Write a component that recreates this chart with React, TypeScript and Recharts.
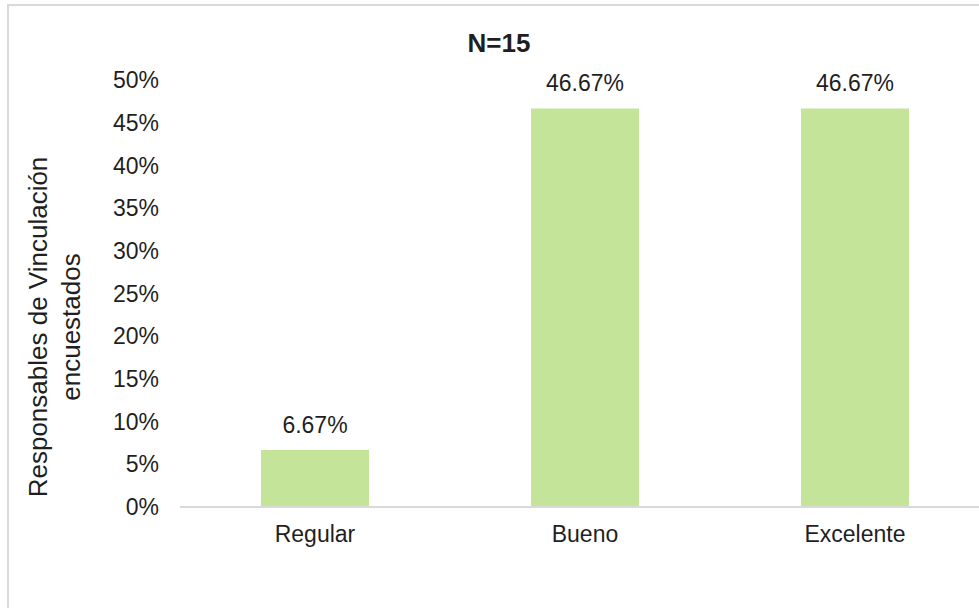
import React from 'react';
import { BarChart, Bar, XAxis, YAxis, LabelList } from 'recharts';

const categories = ['Regular', 'Bueno', 'Excelente'];
const shares = [0.0667, 0.4667, 0.4667];
const yTicks = [0, 0.05, 0.1, 0.15, 0.2, 0.25, 0.3, 0.35, 0.4, 0.45, 0.5];

const title = 'N=15';
const yLabelLines = ['Responsables de Vinculación', 'encuestados'];

const FONT = '"Liberation Sans", Arial, sans-serif';
const TEXT = '#1f1f1f';

const chartData = categories.map((name, i) => ({ name, value: shares[i] }));

const pct = (v: number) => `${Math.round(v * 100)}%`;
const pct2 = (v: any) => `${(Number(v) * 100).toFixed(2)}%`;

export default function App() {
    return (
        <div
            style={{
                position: 'fixed',
                left: 7,
                top: 4,
                width: 972,
                height: 604,
                overflow: 'hidden',
                background: '#fff',
            }}
        >
            <div
                style={{
                    position: 'relative',
                    width: 1100,
                    height: 700,
                    borderTop: '2px solid #d9d9d9',
                    borderLeft: '2px solid #d9d9d9',
                }}
            >
                <BarChart
                    width={1000}
                    height={620}
                    data={chartData}
                    margin={{ top: 74, right: 19, left: 0, bottom: 59 }}
                    barCategoryGap="30%"
                >
                    <XAxis
                        dataKey="name"
                        height={60}
                        interval={0}
                        axisLine={{ stroke: '#d9d9d9', strokeWidth: 2 }}
                        tickLine={false}
                        tickSize={0}
                        tickMargin={19}
                        tick={{ fill: TEXT, fontSize: 23, fontFamily: FONT }}
                    />
                    <YAxis
                        width={171}
                        domain={[0, 0.5]}
                        ticks={yTicks}
                        interval={0}
                        tickFormatter={pct}
                        axisLine={false}
                        tickLine={false}
                        tickSize={0}
                        tickMargin={21}
                        tick={{ fill: TEXT, fontSize: 23, fontFamily: FONT }}
                    />
                    <Bar dataKey="value" fill="#c4e49a" isAnimationActive={false}>
                        <LabelList
                            dataKey="value"
                            position="top"
                            offset={17}
                            formatter={pct2}
                            style={{ fill: TEXT, fontSize: 23, fontFamily: FONT }}
                        />
                    </Bar>
                </BarChart>
                <svg
                    width={1000}
                    height={620}
                    style={{ position: 'absolute', left: 0, top: 0, pointerEvents: 'none' }}
                >
                    <text
                        x={490}
                        y={46}
                        textAnchor="middle"
                        fontFamily={FONT}
                        fontSize={26}
                        fontWeight="bold"
                        fill={TEXT}
                    >
                        {title}
                    </text>
                    {yLabelLines.map((line, i) => {
                        const x = 38 + i * 33;
                        const y = 321;
                        return (
                            <text
                                key={line}
                                x={x}
                                y={y}
                                transform={`rotate(-90, ${x}, ${y})`}
                                textAnchor="middle"
                                fontFamily={FONT}
                                fontSize={26}
                                fill={TEXT}
                            >
                                {line}
                            </text>
                        );
                    })}
                </svg>
            </div>
        </div>
    );
}
